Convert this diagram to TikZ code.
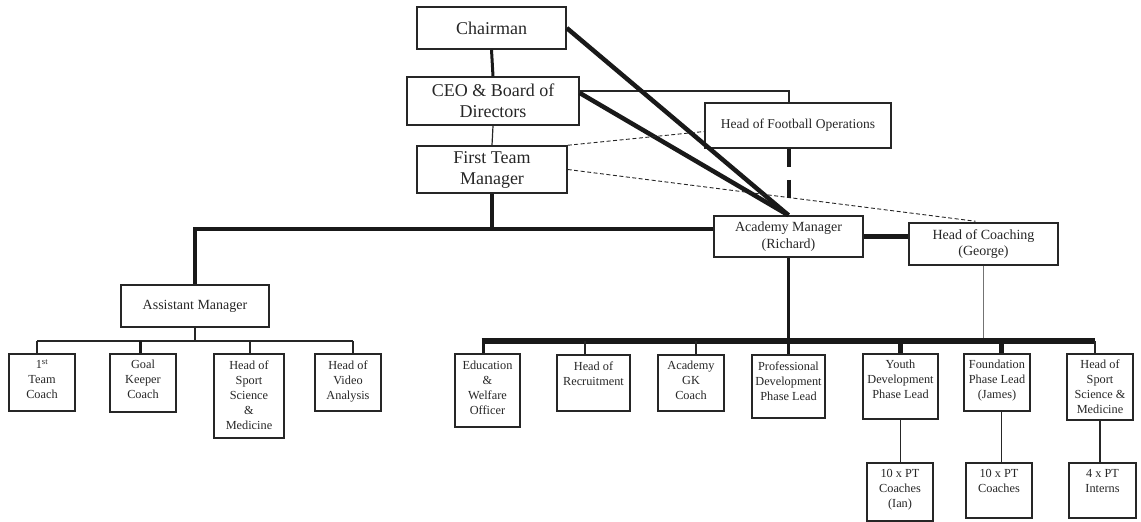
\documentclass[tikz,border=0pt]{standalone}
\usepackage{fontspec}
\setmainfont{Liberation Serif}
\begin{document}
\begin{tikzpicture}[x=1pt,y=-1pt,
  box/.style={draw=black!85, line width=1.5pt, rectangle, inner sep=0pt, align=center, text=black!85},
  bigtext/.style={font=\fontsize{18}{21}\selectfont},
  midtext/.style={font=\fontsize{14}{16.5}\selectfont},
  hfotext/.style={font=\fontsize{13.5}{16}\selectfont},
  smalltext/.style={font=\fontsize{12.3}{15}\selectfont, align=center, inner sep=0pt, anchor=north, text=black!85},
  thinln/.style={line width=1.2pt, draw=black!85},
  greyln/.style={line width=1pt, draw=black!55},
  medln/.style={line width=3pt, draw=black!90},
  thickln/.style={line width=4.5pt, draw=black!90},
  dashln/.style={line width=0.9pt, draw=black!85, dash pattern=on 4pt off 2.5pt},
  bigdash/.style={line width=4pt, draw=black!90, dash pattern=on 18pt off 13pt},
]
\useasboundingbox (0,0) rectangle (1141,522);

% ---------- upper boxes ----------
\node[box, bigtext, minimum width=149pt, minimum height=42pt] (chair) at (491.5,28) {Chairman};
\node[box, bigtext, minimum width=172pt, minimum height=48pt] (ceo) at (493,101) {CEO \& Board of\\Directors};
\node[box, bigtext, minimum width=150pt, minimum height=47pt] (ftm) at (492,169.5) {First Team\\Manager};
\node[box, hfotext, minimum width=186pt, minimum height=45pt] (hfo) at (798,125.5) {Head of Football Operations};
\node[box, midtext, minimum width=149pt, minimum height=41pt] (am) at (788.5,236.5) {Academy Manager\\(Richard)};
\node[box, midtext, minimum width=149pt, minimum height=42pt] (hoc) at (983.5,244) {Head of Coaching\\(George)};
\node[box, midtext, minimum width=148pt, minimum height=42pt] (asst) at (195,306) {Assistant Manager};

% ---------- first team staff ----------
\node[box, minimum width=66pt, minimum height=57pt] (c1) at (42,382.5) {};
\node[smalltext] (c1t) at ([yshift=-6pt]c1.north) {1\textsuperscript{st}\\Team\\Coach};
\node[box, minimum width=66pt, minimum height=58pt] (c2) at (143,383) {};
\node[smalltext] (c2t) at ([yshift=-7pt]c2.north) {Goal\\Keeper\\Coach};
\node[box, minimum width=70pt, minimum height=84pt] (c3) at (249,396) {};
\node[smalltext] (c3t) at ([yshift=-7pt]c3.north) {Head of\\Sport\\Science\\\&\\Medicine};
\node[box, minimum width=66pt, minimum height=57pt] (c4) at (348,382.5) {};
\node[smalltext] (c4t) at ([yshift=-7pt]c4.north) {Head of\\Video\\Analysis};

% ---------- academy staff ----------
\node[box, minimum width=65pt, minimum height=73pt] (a1) at (487.5,390.5) {};
\node[smalltext] (a1t) at ([yshift=-8pt]a1.north) {Education\\\&\\Welfare\\Officer};
\node[box, minimum width=73pt, minimum height=56pt] (a2) at (593.5,383) {};
\node[smalltext] (a2t) at ([yshift=-7pt]a2.north) {Head of\\Recruitment};
\node[box, minimum width=66pt, minimum height=56pt] (a3) at (691,383) {};
\node[smalltext] (a3t) at ([yshift=-7pt]a3.north) {Academy\\GK\\Coach};
\node[box, minimum width=73pt, minimum height=63pt] (a4) at (788.5,386.5) {};
\node[smalltext] (a4t) at ([yshift=-7pt]a4.north) {Professional\\Development\\Phase Lead};
\node[box, minimum width=75pt, minimum height=65pt] (a5) at (900.5,386.5) {};
\node[smalltext] (a5t) at ([yshift=-7pt]a5.north) {Youth\\Development\\Phase Lead};
\node[box, minimum width=66pt, minimum height=57pt] (a6) at (997,382.5) {};
\node[smalltext] (a6t) at ([yshift=-7pt]a6.north) {Foundation\\Phase Lead\\(James)};
\node[box, minimum width=66pt, minimum height=66pt] (a7) at (1100,387) {};
\node[smalltext] (a7t) at ([yshift=-6pt]a7.north) {Head of\\Sport\\Science \&\\Medicine};

\node[box, minimum width=66pt, minimum height=58pt] (p1) at (900,492) {};
\node[smalltext] (p1t) at ([yshift=-7pt]p1.north) {10 x PT\\Coaches\\(Ian)};
\node[box, minimum width=66pt, minimum height=55pt] (p2) at (999,490.5) {};
\node[smalltext] (p2t) at ([yshift=-7pt]p2.north) {10 x PT\\Coaches};
\node[box, minimum width=67pt, minimum height=55pt] (p3) at (1102.5,490.5) {};
\node[smalltext] (p3t) at ([yshift=-7pt]p3.north) {4 x PT\\Interns};

% ---------- coordinates ----------
\coordinate (busL) at ([yshift=7.5pt]am.west);
\coordinate (busA) at (0,341);
\coordinate (busB) at (0,341);
\coordinate (hfoend) at (789,198);

% ---------- top connectors ----------
\draw[medln] (chair.south) -- (ceo.north);
\draw[thinln] (ceo.south) -- (ftm.north);
\draw[thinln] ([yshift=10pt]ceo.east) -| ([xshift=-9pt]hfo.north);
\draw[thickln] (chair.east) -- (am.north);
\draw[thickln] ([yshift=8pt]ceo.east) -- (am.north);
\draw[dashln] (ftm.north east) -- ([yshift=-6pt]hfo.west);
\draw[dashln] (ftm.east) -- ([xshift=-8pt,yshift=1pt]hoc.north);
\draw[bigdash] ([xshift=-9pt]hfo.south) -- (hfoend);

% ---------- first team branch ----------
\draw[thickln] (ftm.south) -- (ftm.south |- busL);
\draw[line width=4pt, draw=black!90] (busL) -| (asst.north);
\draw[line width=5pt, draw=black!90] (am.east) -- (am.east -| hoc.west);

\draw[thinln] (asst.south) -- (asst.south |- busB);
\draw[thinln] ([xshift=-5pt]c1.north |- busB) -- ([xshift=5pt]c4.north |- busB);
\draw[thinln] ([xshift=-5pt]c1.north) -- ([xshift=-5pt]c1.north |- busB);
\draw[medln] ([xshift=-3pt]c2.north) -- ([xshift=-3pt]c2.north |- busB);
\draw[thinln] ([xshift=1pt]c3.north) -- ([xshift=1pt]c3.north |- busB);
\draw[thinln] ([xshift=5pt]c4.north) -- ([xshift=5pt]c4.north |- busB);

% ---------- academy branch ----------
\draw[line width=3.5pt, draw=black!90] (am.south) -- (a4.north);
\draw[greyln] (hoc.south) -- (hoc.south |- busA);
\draw[line width=5.5pt, draw=black!90] ([xshift=-6pt]a1.north |- busA) -- ([xshift=-5pt]a7.north |- busA);
\draw[medln] ([xshift=-4.5pt]a1.north) -- ([xshift=-4.5pt]a1.north |- busA);
\draw[thinln] ([xshift=-8.5pt]a2.north) -- ([xshift=-8.5pt]a2.north |- busA);
\draw[thinln] ([xshift=5pt]a3.north) -- ([xshift=5pt]a3.north |- busA);
\draw[thickln] (a5.north) -- (a5.north |- busA);
\draw[thickln] ([xshift=4.5pt]a6.north) -- ([xshift=4.5pt]a6.north |- busA);
\draw[thinln] ([xshift=-5pt]a7.north) -- ([xshift=-5pt]a7.north |- busA);

\draw[thinln] (a5.south) -- (a5.south |- p1.north);
\draw[thinln] ([xshift=4.5pt]a6.south) -- ([xshift=4.5pt]a6.south |- p2.north);
\draw[thinln] (a7.south) -- (a7.south |- p3.north);
\end{tikzpicture}
\end{document}
